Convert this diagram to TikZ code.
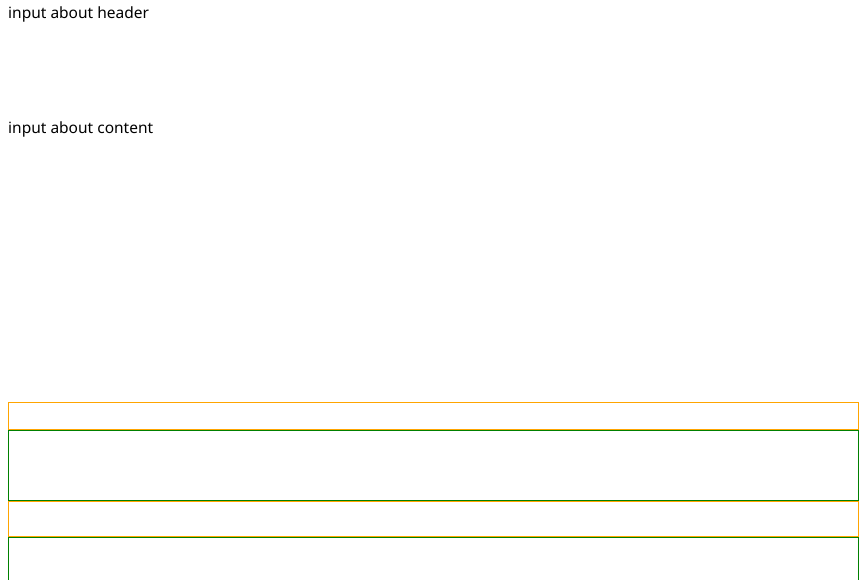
\documentclass[tikz,border=0pt]{standalone}
\usepackage{fontspec}
\setmainfont{Noto Sans}
\definecolor{boxorange}{HTML}{FFA500}
\definecolor{boxgreen}{HTML}{008000}
\tikzset{
  lbl/.style={anchor=base west, inner sep=0pt, font=\fontsize{15.5}{18}\selectfont, text=black},
  band/.style={line width=1pt, anchor=north west, inner sep=0pt, minimum width=850pt},
  orangeband/.style={band, draw=boxorange},
  greenband/.style={band, draw=boxgreen},
}
\begin{document}
\begin{tikzpicture}[x=1pt,y=-1pt]
\useasboundingbox (0,0) rectangle (865,579);
\clip (0,0) rectangle (865,579);
\node[lbl] (header) at (8,18) {input about header};
\node[lbl] (content) at (8,133) {input about content};
\node[orangeband, minimum height=27pt] (o1) at (8,402) {};
\node[greenband, minimum height=70pt] (g1) at (8,430) {};
\node[orangeband, minimum height=35pt] (o2) at (8,501) {};
\node[greenband, minimum height=70pt] (g2) at (8,537) {};
\end{tikzpicture}
\end{document}
